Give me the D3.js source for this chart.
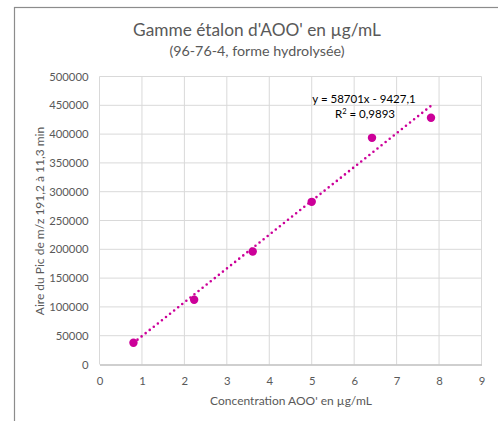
<!DOCTYPE html>
<html><head><meta charset="utf-8">
<script src="https://cdn.jsdelivr.net/npm/d3@7"></script>
<style>body{margin:0;background:#fff}svg{display:block}text{font-family:Lato,"Open Sans",sans-serif}</style>
</head><body>
<svg id="c" width="498" height="421"></svg>
<script>
const concentrations = [0.80, 2.23, 3.61, 5.00, 6.42, 7.81];
const areas = [37700, 112300, 196200, 282400, 393500, 428300];
const slope = 58701, intercept = -9427.1;
const equationText = "y = 58701x - 9427,1";
const r2Text = "0,9893";
const xTicks = [0,1,2,3,4,5,6,7,8,9];
const yTicks = [0,50000,100000,150000,200000,250000,300000,350000,400000,450000,500000];
const title = "Gamme étalon d'AOO' en µg/mL";
const subtitle = "(96-76-4, forme hydrolysée)";
const xTitle = "Concentration AOO' en µg/mL";
const yTitle = "Aire du Pic de m/z 191,2 à 11,3 min";

const svg = d3.select("#c");
const color = "#cc0099", txt = "#595959";
// chart frame
svg.append("rect").attr("x",14.5).attr("y",7.5).attr("width",520).attr("height",450)
  .attr("fill","#fff").attr("stroke","#8c8c8c").attr("stroke-width",1.2);

const x = d3.scaleLinear().domain([0,9]).range([99.5,481.5]);
const y = d3.scaleLinear().domain([0,500000]).range([364.5,76.5]);

const g = svg.append("g");
// gridlines
g.selectAll(".vg").data(xTicks.slice(1)).join("line")
  .attr("x1",d=>x(d)).attr("x2",d=>x(d)).attr("y1",y(0)).attr("y2",y(500000))
  .attr("stroke","#d9d9d9").attr("stroke-width",1);
g.selectAll(".hg").data(yTicks.slice(1)).join("line")
  .attr("x1",x(0)).attr("x2",x(9)).attr("y1",d=>y(d)).attr("y2",d=>y(d))
  .attr("stroke","#d9d9d9").attr("stroke-width",1);

// axes
const xAxis = d3.axisBottom(x).tickValues(xTicks).tickSize(0).tickPadding(12);
const yAxis = d3.axisLeft(y).tickValues(yTicks).tickSize(0).tickPadding(11).tickFormat(d3.format("d"));
const gx = svg.append("g").attr("transform",`translate(0,${y(0)})`).call(xAxis);
const gy = svg.append("g").attr("transform",`translate(${x(0)},0)`).call(yAxis);
[gx,gy].forEach(a=>{
  a.select(".domain").attr("stroke","#bfbfbf").attr("stroke-width",1.3);
  a.selectAll("text").attr("fill",txt).attr("font-size",11.3).attr("font-family","Lato, sans-serif");
});
gy.select(".domain").remove();
svg.append("line").attr("x1",x(0)).attr("x2",x(0)).attr("y1",y(0)).attr("y2",y(500000)).attr("stroke","#d9d9d9");

// trendline
const xmin = d3.min(concentrations), xmax = d3.max(concentrations);
svg.append("line")
  .attr("x1",x(xmin)).attr("y1",y(slope*xmin+intercept))
  .attr("x2",x(xmax)).attr("y2",y(slope*xmax+intercept))
  .attr("stroke",color).attr("stroke-width",2.6).attr("stroke-linecap","round")
  .attr("stroke-dasharray","0 5.2");

// points
svg.selectAll(".pt").data(concentrations).join("circle")
  .attr("cx",d=>x(d)).attr("cy",(d,i)=>y(areas[i])).attr("r",4.2).attr("fill",color);

// equation
svg.append("text").attr("x",364).attr("y",103).attr("text-anchor","middle")
  .attr("font-size",11.5).attr("fill","#000").text(equationText);
const r2 = svg.append("text").attr("x",365).attr("y",118).attr("text-anchor","middle")
  .attr("font-size",11.5).attr("fill","#000");
r2.append("tspan").text("R");
r2.append("tspan").attr("font-size",7.5).attr("dy",-4).text("2");
r2.append("tspan").attr("dy",4).text(" = " + r2Text);

// titles
svg.append("text").attr("x",257).attr("y",36).attr("text-anchor","middle")
  .attr("font-size",17.3).attr("fill",txt).text(title);
svg.append("text").attr("x",257).attr("y",56).attr("text-anchor","middle")
  .attr("font-size",14.3).attr("fill",txt).text(subtitle);
svg.append("text").attr("x",291).attr("y",405).attr("text-anchor","middle")
  .attr("font-size",12).attr("fill",txt).text(xTitle);
svg.append("text").attr("transform","translate(44,221) rotate(-90)").attr("text-anchor","middle")
  .attr("font-size",12).attr("fill",txt).text(yTitle);
</script>
</body></html>
